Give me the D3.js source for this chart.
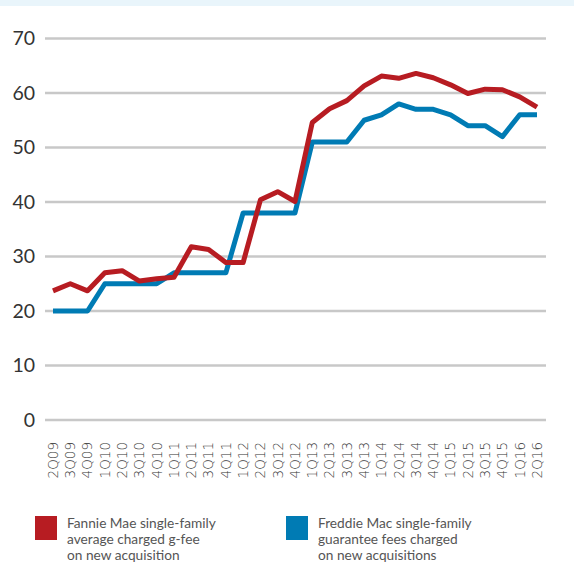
<!DOCTYPE html>
<html>
<head>
<meta charset="utf-8">
<script src="https://cdn.jsdelivr.net/npm/d3@7"></script>
<style>
  body { margin: 0; background: #fff; }
  svg { display: block; }
</style>
</head>
<body>
<div id="chart"></div>
<script>
// quarters shown on the x axis
const quarters = ["2Q09", "3Q09", "4Q09", "1Q10", "2Q10", "3Q10", "4Q10", "1Q11", "2Q11", "3Q11",
    "4Q11", "1Q12", "2Q12", "3Q12", "4Q12", "1Q13", "2Q13", "3Q13", "4Q13", "1Q14", "2Q14",
    "3Q14", "4Q14", "1Q15", "2Q15", "3Q15", "4Q15", "1Q16", "2Q16"];

// fannie mae average charged g-fee (bps)
const fannieValues = [23.7, 25.0, 23.7, 27.0, 27.4, 25.5, 25.9, 26.2, 31.8, 31.3,
    28.9, 28.9, 40.4, 41.9, 40.1, 54.6, 57.1, 58.6, 61.3, 63.1, 62.7,
    63.6, 62.8, 61.5, 59.9, 60.7, 60.6, 59.3, 57.4];

// freddie mac guarantee fees (bps)
const freddieValues = [20, 20, 20, 25, 25, 25, 25, 27, 27, 27,
    27, 38, 38, 38, 38, 51, 51, 51, 55, 56, 58,
    57, 57, 56, 54, 54, 52, 56, 56];

const yTicks = [0, 10, 20, 30, 40, 50, 60, 70];

const legendItems = [
    { label: ["Fannie Mae single-family", "average charged g-fee", "on new acquisition"], color: "#b71c22" },
    { label: ["Freddie Mac single-family", "guarantee fees charged", "on new acquisitions"], color: "#007bb4" }
];

/*
------------------------------
METHOD: canvas size and scales
------------------------------
*/
const W = 574, H = 577;
const svg = d3.select("#chart").append("svg").attr("width", W).attr("height", H);

// light blue strip across the top
svg.append("rect").attr("x", 0).attr("y", 0).attr("width", W).attr("height", 6).attr("fill", "#e9f5fb");

const x = d3.scalePoint().domain(quarters).range([53, 537]);
const y = d3.scaleLinear().domain([0, 70]).range([420, 38.5]);

// gridlines + y labels
const yAxis = svg.append("g");
yAxis.selectAll("line")
    .data(yTicks)
    .join("line")
    .attr("x1", 45).attr("x2", 546)
    .attr("y1", d => y(d)).attr("y2", d => y(d))
    .attr("stroke", "#c8c8c8")
    .attr("stroke-width", 2.5);

yAxis.selectAll("text")
    .data(yTicks)
    .join("text")
    .attr("x", 35)
    .attr("y", d => y(d))
    .attr("dy", "0.35em")
    .attr("text-anchor", "end")
    .attr("font-family", "Lato, 'Open Sans', sans-serif")
    .attr("font-size", "19.5px")
    .attr("fill", "#333")
    .text(d => d);

// x labels, rotated
svg.append("g").selectAll("text")
    .data(quarters)
    .join("text")
    .attr("transform", d => "translate(" + x(d) + ",442) rotate(-90)")
    .attr("dy", "0.36em")
    .attr("text-anchor", "end")
    .attr("font-family", "'DejaVu Sans', sans-serif")
    .attr("font-weight", 200)
    .attr("font-size", "13.5px")
    .attr("fill", "#333")
    .text(d => d);

/*
------------------------------
METHOD: draw the two lines
------------------------------
*/
const line = d3.line()
    .x((d, i) => x(quarters[i]))
    .y(d => y(d));

[[freddieValues, legendItems[1].color], [fannieValues, legendItems[0].color]].forEach(([vals, col]) => {
    svg.append("path")
        .datum(vals)
        .attr("d", line)
        .attr("fill", "none")
        .attr("stroke", col)
        .attr("stroke-width", 5)
        .attr("stroke-linejoin", "round");
});

/*
------------------------------
METHOD: legend
------------------------------
*/
const legend = svg.append("g").selectAll("g")
    .data(legendItems)
    .join("g")
    .attr("transform", (d, i) => "translate(" + (35 + i * 251) + ",516)");

legend.append("rect")
    .attr("width", 22).attr("height", 24)
    .attr("fill", d => d.color);

legend.append("text")
    .attr("x", 32)
    .attr("y", 0)
    .attr("font-family", "Lato, 'Open Sans', sans-serif")
    .attr("font-size", "13.7px")
    .attr("fill", "#555")
    .selectAll("tspan")
    .data(d => d.label)
    .join("tspan")
    .attr("x", 32)
    .attr("y", (d, i) => 12 + i * 16)
    .text(d => d);
</script>
</body>
</html>
